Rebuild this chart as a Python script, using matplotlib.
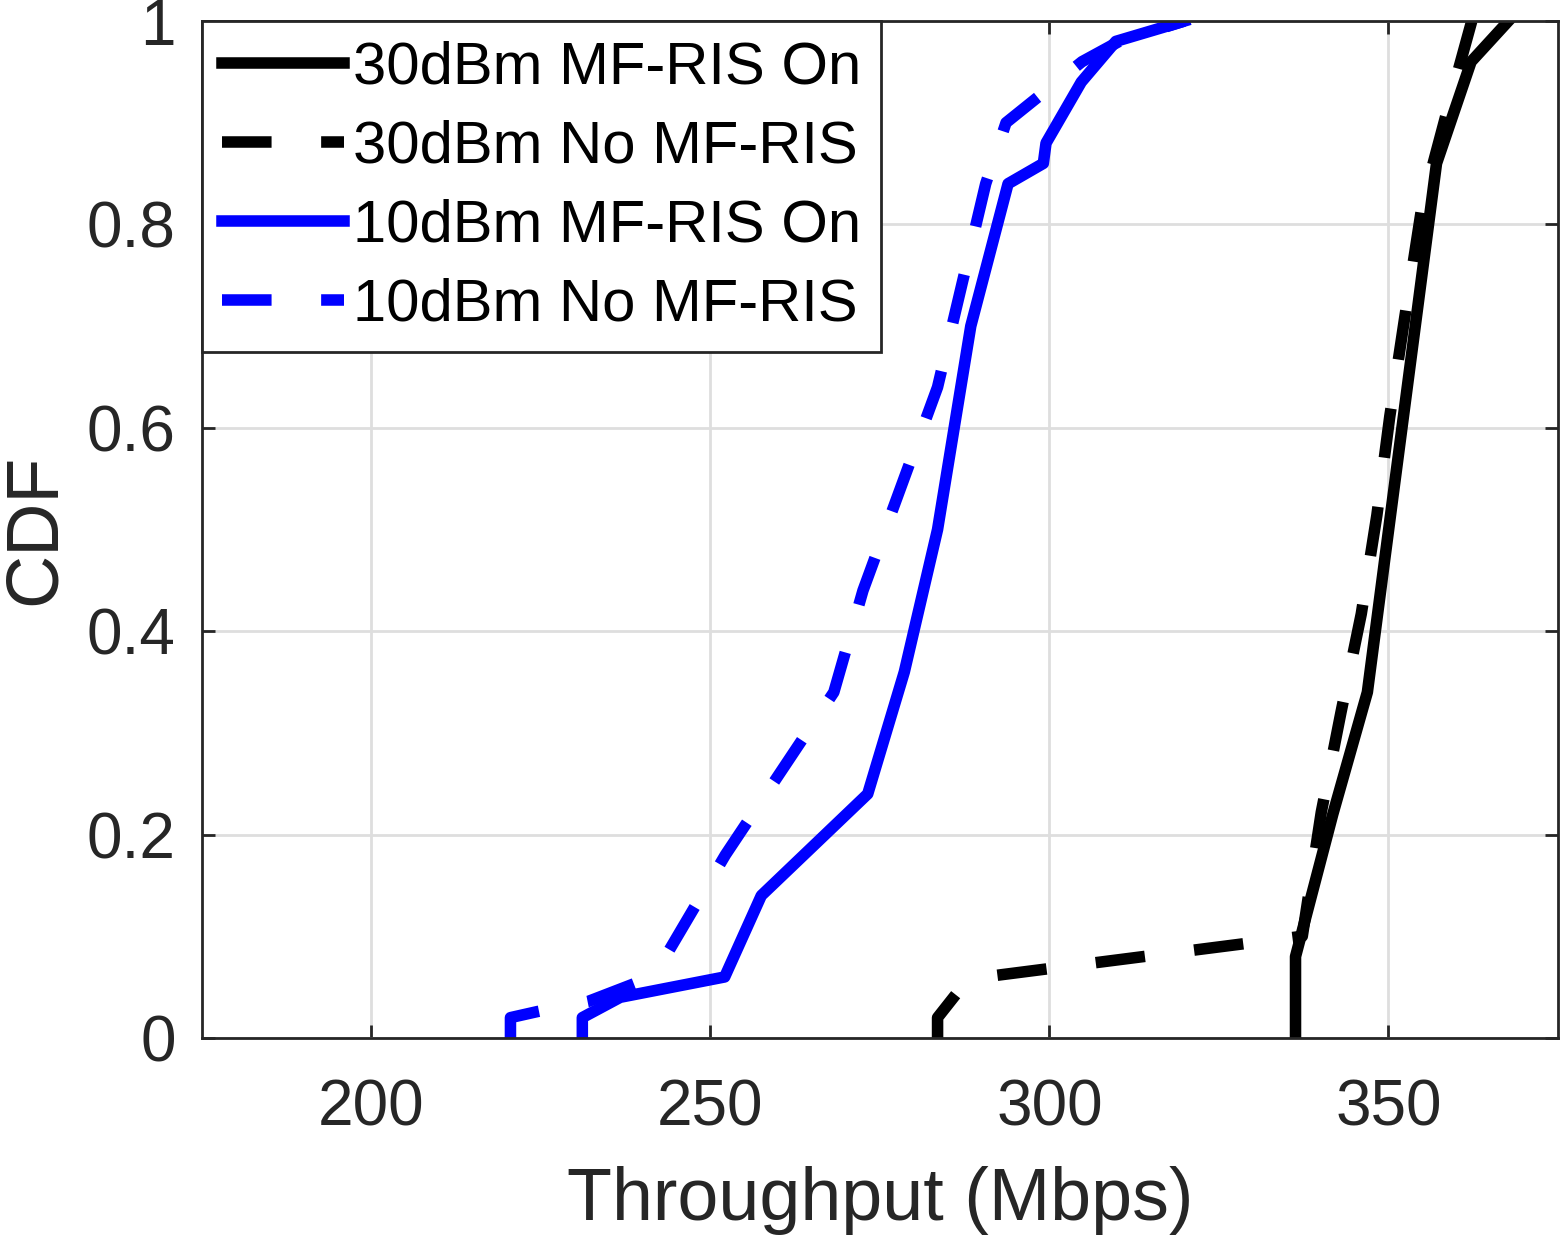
import numpy as np
import matplotlib.pyplot as plt

plt.rcParams['font.family'] = ['Liberation Sans', 'DejaVu Sans']

# 10 dBm, MF-RIS on
x_10_on = [231.1, 231.1, 236.7, 252.1, 257.5, 273.2, 278.6, 283.5, 288.4, 293.9, 299.1, 299.5, 304.7, 309.8, 319.9]
y_10_on = [0, 0.02, 0.04, 0.06, 0.14, 0.24, 0.36, 0.50, 0.70, 0.84, 0.86, 0.88, 0.94, 0.98, 1.0]

# 10 dBm, no MF-RIS
x_10_no = [220.5, 220.5, 224.5, 232.0, 239.0, 243.8, 252.2, 268.2, 272.5, 283.5, 290.6, 293.6, 304.8, 310.3, 319.9]
y_10_no = [0, 0.02, 0.026, 0.036, 0.054, 0.085, 0.18, 0.34, 0.44, 0.64, 0.84, 0.90, 0.96, 0.98, 1.0]

# 30 dBm, MF-RIS on
x_30_on = [336.3, 336.3, 341.8, 346.9, 357.1, 362.2, 367.7]
y_30_on = [0, 0.08, 0.22, 0.34, 0.86, 0.96, 1.0]

# 30 dBm, no MF-RIS
x_30_no = [283.5, 283.5, 288.0, 337.3, 340.1, 343.0, 346.0, 348.3, 350.2, 352.4, 355.0, 359.0, 362.3]
y_30_no = [0, 0.02, 0.058, 0.10, 0.222, 0.32, 0.417, 0.514, 0.611, 0.708, 0.82, 0.92, 1.0]

labels = ['30dBm MF-RIS On', '30dBm No MF-RIS', '10dBm MF-RIS On', '10dBm No MF-RIS']
xticks = [200, 250, 300, 350]
yticks = [0, 0.2, 0.4, 0.6, 0.8, 1]
ytick_labels = ['0', '0.2', '0.4', '0.6', '0.8', '1']

dark = '#262626'
lw = 8.3
dash = (0, (4.3, 4.3))

fig = plt.figure(figsize=(15.61, 12.37), dpi=100)
ax = fig.add_axes([0.1294, 0.1609, 0.8686, 0.8221])

ax.plot(x_30_on, y_30_on, color='black', lw=lw, label=labels[0])
ax.plot(x_30_no, y_30_no, color='black', lw=lw, ls=dash, label=labels[1])
ax.plot(x_10_on, y_10_on, color='blue', lw=lw, label=labels[2])
ax.plot(x_10_no, y_10_no, color='blue', lw=lw, ls=dash, label=labels[3])

ax.set_xlim(175, 375)
ax.set_ylim(0, 1)
ax.set_xticks(xticks)
ax.set_yticks(yticks)
ax.set_yticklabels(ytick_labels)
ax.grid(True, color='#dedede', lw=2)
ax.set_axisbelow(True)

for s in ax.spines.values():
    s.set_color(dark)
    s.set_linewidth(2)
ax.tick_params(direction='in', length=9.4, width=2, color=dark, labelcolor=dark,
               labelsize=46, top=True, right=True)
ax.tick_params(axis='x', pad=29)
ax.tick_params(axis='y', pad=19)

ax.set_xlabel('Throughput (Mbps)', fontsize=53, color=dark, labelpad=20)
ax.set_ylabel('CDF', fontsize=53, color=dark, labelpad=12)

leg = ax.legend(loc='upper left', fontsize=43, frameon=True, fancybox=False,
                framealpha=1, edgecolor=dark, borderaxespad=0, borderpad=0.33,
                handlelength=2.05, handletextpad=0.15, labelspacing=0.4)
leg.get_frame().set_linewidth(2)

fig.savefig('out.png', dpi=100)
